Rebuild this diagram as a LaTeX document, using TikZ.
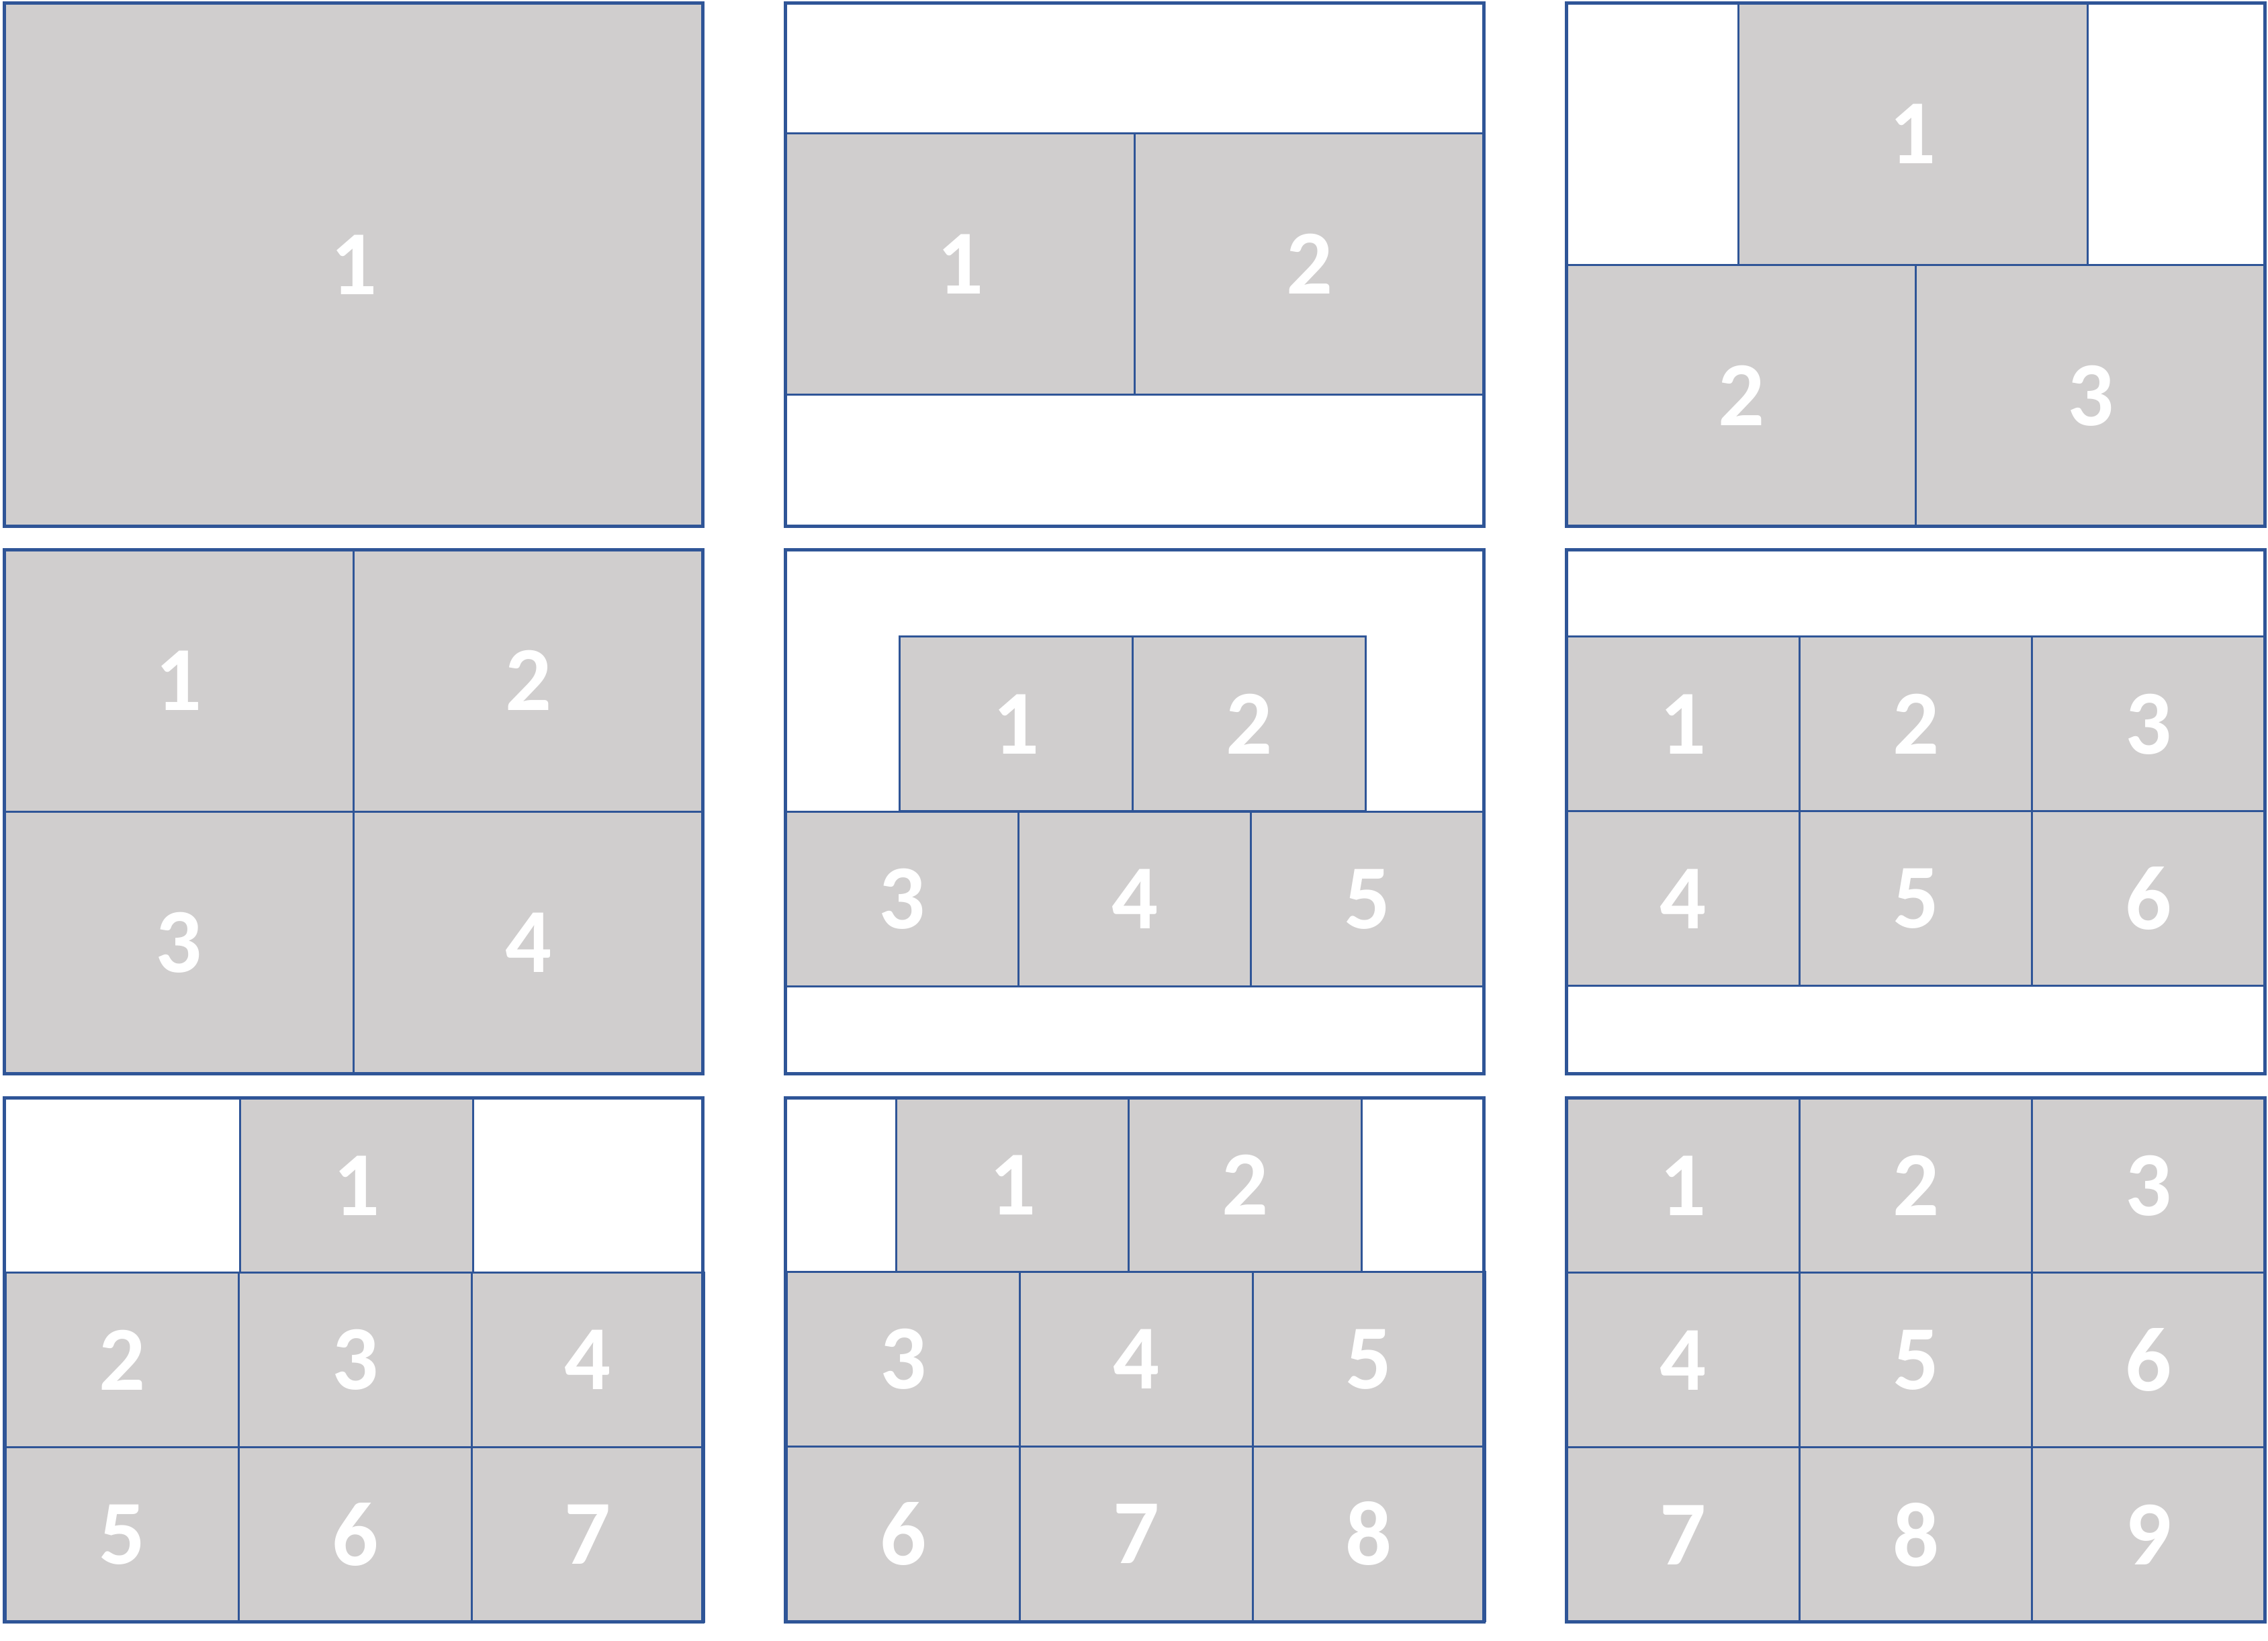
\documentclass[tikz,border=0pt]{standalone}
\usepackage{fontspec}
\setmainfont{Carlito}
\usepackage{xcolor}
\usepackage{tikz}
\usetikzlibrary{positioning}
\definecolor{tilegray}{HTML}{D0CECE}
\definecolor{edgeblue}{HTML}{2F5597}
\tikzset{
	basic/.style = {draw=edgeblue, rectangle, inner sep=0pt, outer sep=0pt},
	tile/.style = {basic, fill=tilegray, line width=0.4pt, text=white, font=\bfseries\fontsize{18}{18}\selectfont},
	panel/.style = {basic, line width=0.66pt, minimum width=48.3mm, minimum height=36.2mm},
	wfull/.style = {minimum width=48.3mm},
	whalf/.style = {minimum width=24.15mm},
	wthird/.style = {minimum width=16.1mm},
	hfull/.style = {minimum height=36.2mm},
	hhalf/.style = {minimum height=18.1mm},
	hthird/.style = {minimum height=12.07mm}
}
\begin{document}
\begin{tikzpicture}[x=0.1mm, y=-0.1mm]
	\useasboundingbox (0,0) rectangle (1568,1134);
	% top row
	\node[tile, wfull, hfull] (a1) at (244.5,183) {1};

	\node[tile, whalf, hhalf] (b1) at (663.75,182.5) {1};
	\node[tile, whalf, hhalf, right=0pt of b1] (b2) {2};

	\node[tile, whalf, hhalf] (c1) at (1322.5,92.5) {1};
	\node[tile, whalf, hhalf] (c2) at (1203.75,273.5) {2};
	\node[tile, whalf, hhalf, right=0pt of c2] (c3) {3};

	% middle row
	\node[tile, whalf, hhalf] (d1) at (123.75,470.5) {1};
	\node[tile, whalf, hhalf, right=0pt of d1] (d2) {2};
	\node[tile, whalf, hhalf, below=0pt of d1] (d3) {3};
	\node[tile, whalf, hhalf, right=0pt of d3] (d4) {4};

	\node[tile, wthird, hthird] (e1) at (702.5,500.5) {1};
	\node[tile, wthird, hthird, right=0pt of e1] (e2) {2};
	\node[tile, wthird, hthird] (e3) at (623.5,621.5) {3};
	\node[tile, wthird, hthird, right=0pt of e3] (e4) {4};
	\node[tile, wthird, hthird, right=0pt of e4] (e5) {5};

	\node[tile, wthird, hthird] (f1) at (1163.5,500.5) {1};
	\node[tile, wthird, hthird, right=0pt of f1] (f2) {2};
	\node[tile, wthird, hthird, right=0pt of f2] (f3) {3};
	\node[tile, wthird, hthird, below=0pt of f1] (f4) {4};
	\node[tile, wthird, hthird, right=0pt of f4] (f5) {5};
	\node[tile, wthird, hthird, right=0pt of f5] (f6) {6};

	% bottom row
	\node[tile, wthird, hthird] (g1) at (246.5,819.5) {1};
	\node[tile, wthird, hthird] (g2) at (84.5,940) {2};
	\node[tile, wthird, hthird, right=0pt of g2] (g3) {3};
	\node[tile, wthird, hthird, right=0pt of g3] (g4) {4};
	\node[tile, wthird, hthird, below=0pt of g2] (g5) {5};
	\node[tile, wthird, hthird, right=0pt of g5] (g6) {6};
	\node[tile, wthird, hthird, right=0pt of g6] (g7) {7};

	\node[tile, wthird, hthird] (h1) at (700,819) {1};
	\node[tile, wthird, hthird, right=0pt of h1] (h2) {2};
	\node[tile, wthird, hthird] (h3) at (624.5,939.5) {3};
	\node[tile, wthird, hthird, right=0pt of h3] (h4) {4};
	\node[tile, wthird, hthird, right=0pt of h4] (h5) {5};
	\node[tile, wthird, hthird, below=0pt of h3] (h6) {6};
	\node[tile, wthird, hthird, right=0pt of h6] (h7) {7};
	\node[tile, wthird, hthird, right=0pt of h7] (h8) {8};

	\node[tile, wthird, hthird] (i1) at (1163.5,819.5) {1};
	\node[tile, wthird, hthird, right=0pt of i1] (i2) {2};
	\node[tile, wthird, hthird, right=0pt of i2] (i3) {3};
	\node[tile, wthird, hthird, below=0pt of i1] (i4) {4};
	\node[tile, wthird, hthird, right=0pt of i4] (i5) {5};
	\node[tile, wthird, hthird, right=0pt of i5] (i6) {6};
	\node[tile, wthird, hthird, below=0pt of i4] (i7) {7};
	\node[tile, wthird, hthird, right=0pt of i7] (i8) {8};
	\node[tile, wthird, hthird, right=0pt of i8] (i9) {9};

	% frames
	\node[panel] (pa) at (244.5,183) {};
	\node[panel] (pb) at (784.5,183) {};
	\node[panel] (pc) at (1324.5,183) {};
	\node[panel] (pd) at (244.5,561) {};
	\node[panel] (pe) at (784.5,561) {};
	\node[panel] (pf) at (1324.5,561) {};
	\node[panel] (pg) at (244.5,940) {};
	\node[panel] (ph) at (784.5,940) {};
	\node[panel] (pi) at (1324.5,940) {};
\end{tikzpicture}
\end{document}
